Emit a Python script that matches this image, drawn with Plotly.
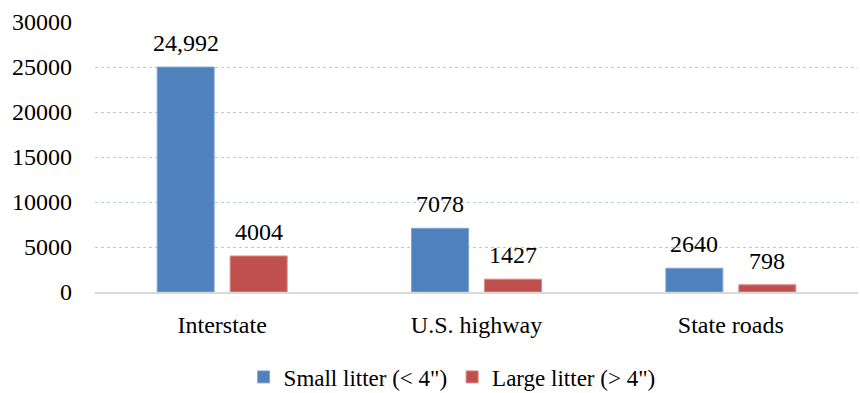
import plotly.graph_objects as go

categories = ["Interstate", "U.S. highway", "State roads"]
small_litter = [24992, 7078, 2640]
large_litter = [4004, 1427, 798]
small_labels = ["24,992", "7078", "2640"]
large_labels = ["4004", "1427", "798"]
y_ticks = [0, 5000, 10000, 15000, 20000, 25000, 30000]

FONT = "Liberation Serif, Times New Roman, serif"
FS = 24

fig = go.Figure()
fig.add_trace(go.Bar(
    name='Small litter (< 4")', x=categories, y=small_litter,
    marker=dict(color="#4F81BD", line=dict(width=1, color="#7fa6d6")),
    offsetgroup="small",
))
fig.add_trace(go.Bar(
    name='Large litter (> 4")', x=categories, y=large_litter,
    marker=dict(color="#C0504D", line=dict(width=1, color="#d98a88")),
    offsetgroup="large",
))

# value labels above each bar
half = 0.5 * (1 - 0.426) / 2  # center offset of each bar within its category
for i, cat in enumerate(categories):
    for vals, labels, sign in ((small_litter, small_labels, -1), (large_litter, large_labels, 1)):
        fig.add_annotation(
            x=i + sign * half, y=vals[i], xref="x", yref="y",
            text=labels[i], showarrow=False, yanchor="middle", yshift=24,
            font=dict(size=FS, family=FONT, color="black"),
        )

fig.update_layout(
    width=860, height=393,
    margin=dict(l=95, r=2, t=22, b=101, autoexpand=False),
    paper_bgcolor="white", plot_bgcolor="white",
    font=dict(family=FONT, size=FS, color="black"),
    barmode="group", bargap=0.426, bargroupgap=0.219,
    showlegend=True,
    legend=dict(orientation="h", x=0.468, xanchor="center", y=-0.235, yanchor="top",
                font=dict(size=23, family=FONT), itemwidth=30, traceorder="normal"),
)
fig.update_xaxes(showline=True, linecolor="#d9d9d9", linewidth=2, ticks="",
                 tickfont=dict(size=FS, family=FONT), showgrid=False,
                 ticklabelstandoff=10)
fig.update_yaxes(range=[0, 30000], tickvals=y_ticks, tickformat="d",
                 showgrid=True, gridcolor="#b4cbe8", griddash="dot", gridwidth=1,
                 zeroline=False, showline=False, ticks="", ticklabelstandoff=22,
                 tickfont=dict(size=FS, family=FONT))

fig.write_html("out.html")
